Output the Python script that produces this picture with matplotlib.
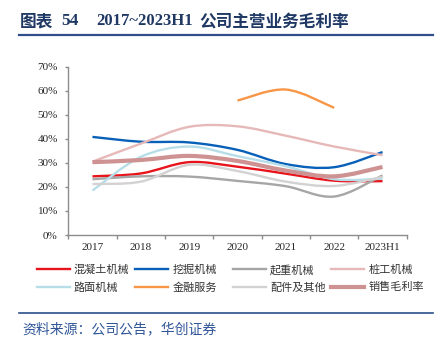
import matplotlib

matplotlib.use("Agg")
import matplotlib.pyplot as plt
import numpy as np
from matplotlib.lines import Line2D
from matplotlib.patches import PathPatch
from matplotlib.path import Path

# gross margin by segment, in percent (None = no data)
years = ["2017", "2018", "2019", "2020", "2021", "2022", "2023H1"]
concrete = [24.4, 25.6, 30.3, 28.4, 25.5, 22.6, 22.4]
excavator = [40.8, 38.8, 38.5, 35.4, 29.5, 28.2, 34.5]
crane = [23.2, 24.4, 24.3, 22.5, 20.3, 16.0, 24.8]
piling = [30.5, 38.0, 45.0, 45.2, 41.3, 36.8, 33.2]
road = [18.5, 32.5, 36.8, 32.8, 28.6, 23.2, 23.4]
finance = [None, None, None, 55.9, 60.5, 52.9, None]
parts = [21.2, 22.2, 29.2, 26.6, 22.2, 20.4, 24.2]
total = [30.3, 31.2, 32.9, 30.8, 26.8, 24.4, 28.3]

series_names = ["混凝土机械", "挖掘机械", "起重机械", "桩工机械",
                "路面机械", "金融服务", "配件及其他", "销售毛利率"]
series_values = [concrete, excavator, crane, piling, road, finance, parts, total]
series_colors = ["#e8141c", "#0860b8", "#a6a6a6", "#e6b9b8",
                 "#b7dee8", "#f79646", "#d3d1d1", "#cf9292"]
series_widths = [1.7, 1.7, 1.7, 1.7, 1.7, 1.7, 1.7, 3.0]

CJK = ["Noto Sans CJK SC", "DejaVu Sans"]
SERIF_CJK = ["Liberation Serif", "Noto Sans CJK SC"]
NAVY = "#1f3864"


def smooth_path(xs, ys):
    # excel-style smoothed line: cubic bezier through the points
    pts = np.column_stack([xs, ys]).astype(float)
    n = len(pts)
    verts = [pts[0]]
    codes = [Path.MOVETO]
    for i in range(n - 1):
        p0 = pts[max(i - 1, 0)]
        p1 = pts[i]
        p2 = pts[i + 1]
        p3 = pts[min(i + 2, n - 1)]
        verts += [p1 + (p2 - p0) / 6, p2 - (p3 - p1) / 6, p2]
        codes += [Path.CURVE4] * 3
    return Path(verts, codes)


def draw_series(ax, values, color, lw):
    x = np.arange(len(values))
    seg_x, seg_y = [], []
    for xi, v in list(zip(x, values)) + [(None, None)]:
        if v is None:
            if len(seg_x) > 1:
                ax.add_patch(PathPatch(smooth_path(seg_x, seg_y), fill=False,
                                       edgecolor=color, lw=lw, joinstyle="round"))
            seg_x, seg_y = [], []
        else:
            seg_x.append(xi)
            seg_y.append(v)


plt.rcParams["font.family"] = SERIF_CJK
fig = plt.figure(figsize=(4.4, 3.48), dpi=100)
ax = fig.add_axes([0.1552, 0.3247, 0.7691, 0.4836])

for values, color, lw in zip(series_values, series_colors, series_widths):
    draw_series(ax, values, color, lw)

ax.set_xlim(-0.5, len(years) - 0.5)
ax.set_ylim(0, 70)
ax.set_yticks(range(0, 71, 10))
ax.set_yticklabels([f"{v}%" for v in range(0, 71, 10)])
ax.set_xticks(np.arange(len(years) + 1) - 0.5)
ax.set_xticklabels([])
ax.set_xticks(np.arange(len(years)), minor=True)
ax.set_xticklabels(years, minor=True)

for side in ("top", "right"):
    ax.spines[side].set_visible(False)
for side in ("left", "bottom"):
    ax.spines[side].set_color("#8c8c8c")
    ax.spines[side].set_linewidth(1.0)
ax.tick_params(axis="y", length=2.5, width=1.0, color="#8c8c8c", pad=5,
               labelsize=8, labelcolor="#262626")
ax.tick_params(axis="x", which="major", length=3, width=1.0, color="#8c8c8c")
ax.tick_params(axis="x", which="minor", length=0, pad=6, labelsize=8,
               labelcolor="#262626")

# legend: four columns of two entries
col_x = [36.7, 135, 233, 331]
for c in range(4):
    handles = []
    for r in range(2):
        k = c + 4 * r
        handles.append(Line2D([], [], color=series_colors[k], lw=series_widths[k],
                              label=series_names[k]))
    fig.legend(handles=handles, loc="upper left",
               bbox_to_anchor=(col_x[c] / 440, 1 - 264.5 / 348),
               frameon=False, borderpad=0, borderaxespad=0, handlelength=3.0,
               handletextpad=0.35, labelspacing=0.68,
               prop={"family": CJK, "size": 8}, labelcolor="#333333")

# title pieces placed where they sit in the report header
title_y = 1 - 21 / 348
fig.text(20 / 440, title_y, "图表", family=CJK, fontsize=12, fontweight="bold",
         color=NAVY, va="center")
fig.text(61 / 440, title_y, "54", family=SERIF_CJK, fontsize=12.5,
         fontweight="bold", color=NAVY, va="center")
fig.text(96 / 440, title_y, "2017~2023H1", family=SERIF_CJK, fontsize=12,
         fontweight="bold", color=NAVY, va="center")
fig.text(199 / 440, title_y, "公司主营业务毛利率", family=CJK, fontsize=12,
         fontweight="bold", color=NAVY, va="center")
fig.add_artist(Line2D([19 / 440, 433 / 440], [1 - 34.5 / 348] * 2,
                      transform=fig.transFigure, color="#2e4f8a", lw=1.6))
fig.add_artist(Line2D([19 / 440, 433 / 440], [1 - 312.7 / 348] * 2,
                      transform=fig.transFigure, color="#2e4f8a", lw=1.2))
fig.text(22 / 440, 1 - 329.3 / 348, "资料来源：公司公告，华创证券",
         family=CJK, fontsize=10, style="italic", color="#2f5597",
         va="center", ha="left")

fig.savefig("out.png", dpi=100)
